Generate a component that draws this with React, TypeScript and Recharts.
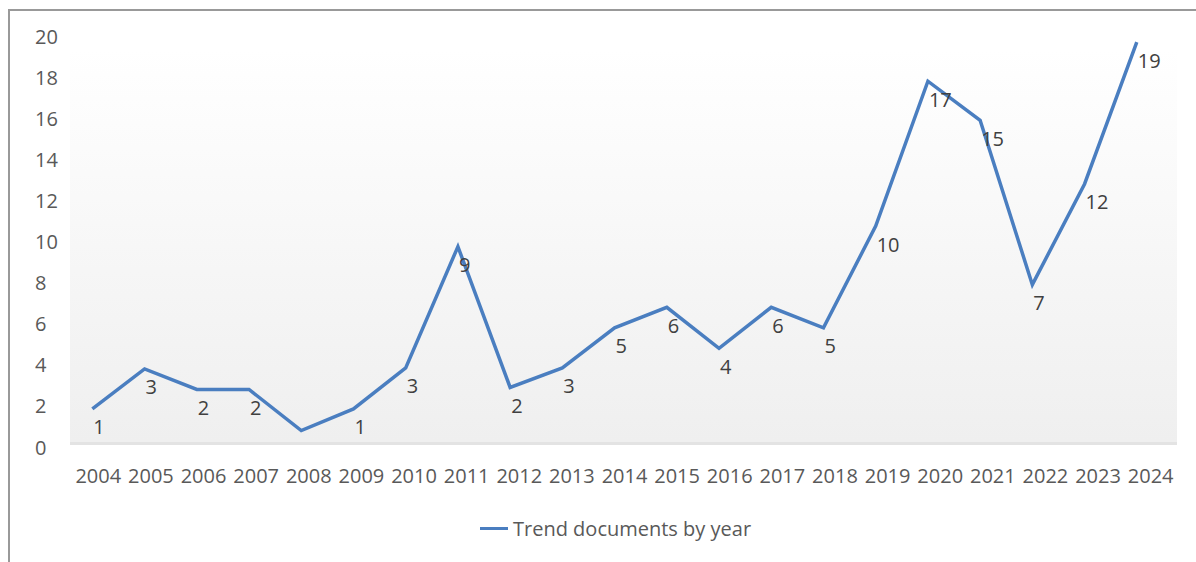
import { LineChart, Line, XAxis, YAxis, LabelList } from 'recharts';

const YEARS = [
  2004, 2005, 2006, 2007, 2008, 2009, 2010, 2011, 2012, 2013, 2014,
  2015, 2016, 2017, 2018, 2019, 2020, 2021, 2022, 2023, 2024,
];

// plotted heights as they sit on the axis in the picture
const TREND_VALUES = [
  1.85, 3.8, 2.8, 2.8, 0.8, 1.85, 3.85, 9.75, 2.9, 3.85, 5.8,
  6.8, 4.8, 6.8, 5.8, 10.75, 17.8, 15.9, 7.9, 12.8, 19.7,
];

// numbers written next to each point (2008 has none)
const TREND_LABELS: (number | null)[] = [
  1, 3, 2, 2, null, 1, 3, 9, 2, 3, 5,
  6, 4, 6, 5, 10, 17, 15, 7, 12, 19,
];

const Y_TICKS = [0, 2, 4, 6, 8, 10, 12, 14, 16, 18, 20];
const SERIES_NAME = 'Trend documents by year';

const data = YEARS.map((year, i) => ({
  year,
  yearLabel: String(year),
  value: TREND_VALUES[i],
  label: TREND_LABELS[i],
}));

const FONT = '"Open Sans", sans-serif';
const TEXT = '#595959';
const BLUE = '#4a7ec0';

const YTick = ({ y, payload }: any) => (
  <text x={35} y={y} fontFamily={FONT} fontSize={20} fill={TEXT} textAnchor="start" dominantBaseline="central">
    {payload.value}
  </text>
);

const XTick = ({ x, payload }: any) => (
  <text x={x} y={475} fontFamily={FONT} fontSize={20} fill={TEXT} textAnchor="middle" dominantBaseline="central">
    {payload.value}
  </text>
);

const PointLabel = ({ x, y, value }: any) => {
  if (value === null || value === undefined) return null;
  return (
    <text x={x + 1} y={y + 18} fontFamily={FONT} fontSize={20} fill="#404040" textAnchor="start" dominantBaseline="central">
      {value}
    </text>
  );
};

export default function App() {
  return (
    <div style={{ position: 'absolute', left: 0, top: 0, width: 1196, height: 562, background: '#fff', overflow: 'hidden' }}>
      {/* outer frame */}
      <div
        style={{
          position: 'absolute', left: 8, top: 9, width: 1190, height: 560,
          borderTop: '2px solid #999', borderLeft: '2px solid #999',
        }}
      />
      {/* plot area fill */}
      <div
        style={{
          position: 'absolute', left: 70, top: 50, width: 1107, height: 392,
          background: 'linear-gradient(#ffffff, #efefef)',
          borderBottom: '3px solid #e3e3e3',
        }}
      />
      <div style={{ position: 'absolute', left: 0, top: 0 }}>
        <LineChart width={1196} height={562} data={data} margin={{ top: 36, right: 19, bottom: 0, left: 0 }}>
          <XAxis
            xAxisId="cat"
            dataKey="yearLabel"
            type="category"
            scale="band"
            axisLine={false}
            tickLine={false}
            interval={0}
            height={115}
            tick={<XTick />}
          />
          <XAxis
            xAxisId="pt"
            dataKey="year"
            type="number"
            scale="linear"
            domain={[2003.61, 2024.77]}
            hide
          />
          <YAxis
            type="number"
            domain={[0, 20]}
            ticks={Y_TICKS}
            axisLine={false}
            tickLine={false}
            width={72}
            tick={<YTick />}
          />
          <Line
            xAxisId="pt"
            type="linear"
            dataKey="value"
            name={SERIES_NAME}
            stroke={BLUE}
            strokeWidth={3.5}
            dot={false}
            activeDot={false}
            isAnimationActive={false}
          >
            <LabelList dataKey="label" content={<PointLabel />} />
          </Line>
        </LineChart>
      </div>
      {/* legend */}
      <div style={{ position: 'absolute', left: 480, top: 515, display: 'flex', alignItems: 'center', fontFamily: FONT, fontSize: 20, color: TEXT }}>
        <span style={{ display: 'inline-block', width: 28, height: 3.5, background: BLUE, marginRight: 5 }} />
        <span>{SERIES_NAME}</span>
      </div>
    </div>
  );
}
